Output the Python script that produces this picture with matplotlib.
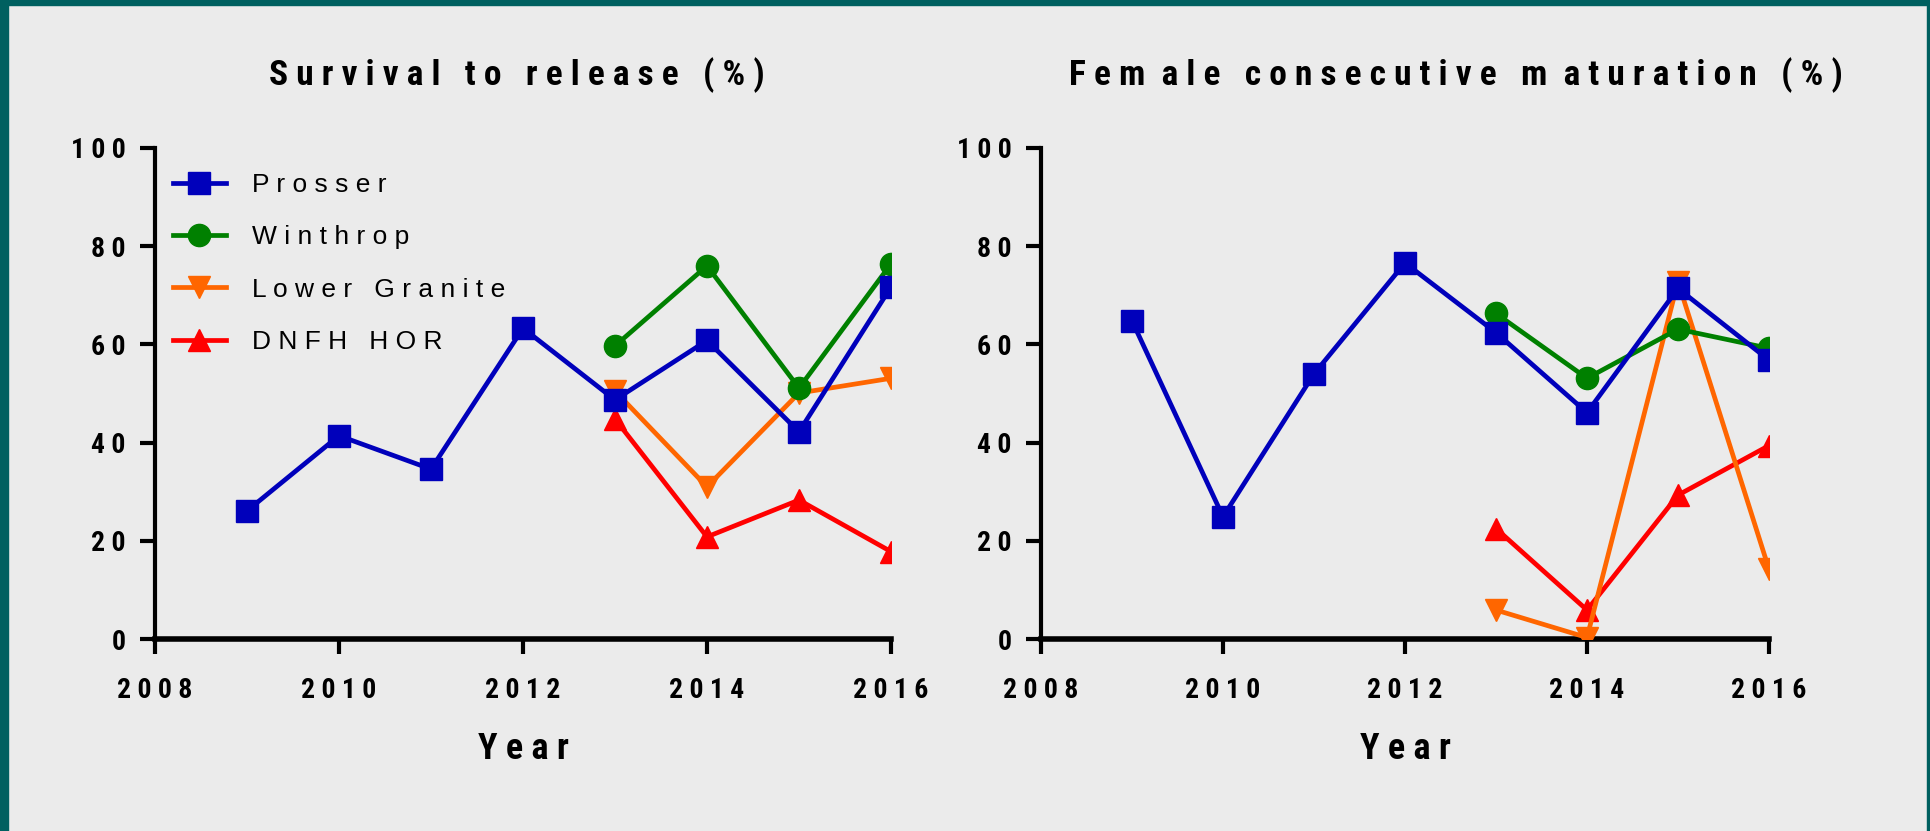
import matplotlib
matplotlib.use("Agg")
import matplotlib.pyplot as plt
from matplotlib import font_manager
from matplotlib.patches import Rectangle

years = [2009, 2010, 2011, 2012, 2013, 2014, 2015, 2016]
years_new = [2013, 2014, 2015, 2016]

# Survival to release (%)
surv_prosser = [26.1, 41.4, 34.6, 63.3, 48.7, 60.8, 42.2, 71.7]
surv_winthrop = [59.7, 76.0, 51.1, 76.4]
surv_lower_granite = [50.5, 31.0, 50.1, 53.1]
surv_dnfh = [44.8, 20.8, 28.3, 17.8]

# Female consecutive maturation (%)
mat_prosser = [64.8, 24.9, 54.0, 76.6, 62.4, 46.1, 71.4, 56.8]
mat_winthrop = [66.3, 53.1, 63.1, 59.2]
mat_lower_granite = [5.9, 0.3, 72.8, 14.2]
mat_dnfh = [22.5, 5.9, 29.3, 39.4]

series_names = ["Prosser", "Winthrop", "Lower Granite", "DNFH HOR"]
colors = ["#0000BB", "#008000", "#FF6600", "#FF0000"]
markers = ["s", "o", "v", "^"]

xticks = [2008, 2010, 2012, 2014, 2016]
yticks = [0, 20, 40, 60, 80, 100]

# look for a narrow bold face, the original uses condensed lettering
cond = None
for f in font_manager.fontManager.ttflist:
    fn = f.fname.lower()
    if ("narrow" in fn or "condensed" in fn) and "bold" in fn and "italic" not in fn and "oblique" not in fn:
        cond = f.fname
        if "liberation" in fn:
            break


def bold_font(size):
    if cond:
        return font_manager.FontProperties(fname=cond, size=size)
    return font_manager.FontProperties(family="Liberation Sans", weight="bold", size=size * 0.85)


fig = plt.figure(figsize=(19.31, 8.31), dpi=100)
fig.patch.set_facecolor("#EBEBEB")

# teal frame
teal = "#006060"
fig.add_artist(Rectangle((0, 0), 8 / 1931, 1, transform=fig.transFigure, color=teal, zorder=10))
fig.add_artist(Rectangle((0, 1 - 5 / 831), 1, 5 / 831, transform=fig.transFigure, color=teal, zorder=10))
fig.add_artist(Rectangle((1 - 4 / 1931, 0), 4 / 1931, 1, transform=fig.transFigure, color=teal, zorder=10))

ax1 = fig.add_axes([155 / 1931, 192 / 831, 736 / 1931, 491 / 831])
ax2 = fig.add_axes([1041 / 1931, 192 / 831, 728 / 1931, 491 / 831])

data = [
    (ax1, [surv_prosser, surv_winthrop, surv_lower_granite, surv_dnfh]),
    (ax2, [mat_prosser, mat_winthrop, mat_lower_granite, mat_dnfh]),
]

for ax, vals in data:
    ax.set_facecolor("#EBEBEB")
    for i, v in enumerate(vals):
        xs = years if i == 0 else years_new
        ax.plot(xs, v, color=colors[i], marker=markers[i], markersize=16, lw=3.4,
                label=" ".join(series_names[i]), zorder=5 - i)
    ax.set_xlim(2008, 2016)
    ax.set_ylim(0, 100)
    for s in ["top", "right"]:
        ax.spines[s].set_visible(False)
    ax.spines["left"].set_linewidth(3)
    ax.spines["bottom"].set_linewidth(4)
    ax.set_xticks(xticks)
    ax.set_xticklabels([" ".join(str(t)) for t in xticks], fontproperties=bold_font(20))
    ax.set_yticks(yticks)
    ax.set_yticklabels([" ".join(str(t)) for t in yticks], fontproperties=bold_font(20))
    ax.tick_params(axis="both", length=11, width=3, direction="out")
    ax.tick_params(axis="x", pad=16)
    ax.tick_params(axis="y", pad=10)
    ax.set_xlabel("Y e a r", fontproperties=bold_font(26), labelpad=20)

fig.text(517 / 1931, 1 - 75 / 831, "S u r v i v a l   t o   r e l e a s e   ( % )",
         ha="center", va="center", fontproperties=bold_font(25.5))
fig.text(1456 / 1931, 1 - 75 / 831,
         "F e m  a l e   c o n s e c u t i v e   m  a t u r a t i o n   ( % )",
         ha="center", va="center", fontproperties=bold_font(25.5))

leg = ax1.legend(loc="upper left", bbox_to_anchor=(-0.008, 0.997), frameon=False,
                 prop={"family": ["Liberation Sans", "DejaVu Sans"], "size": 19},
                 handlelength=2.0, handletextpad=1.0, labelspacing=1.07, markerscale=1.0)

fig.savefig("out.png", dpi=100, facecolor=fig.get_facecolor())
